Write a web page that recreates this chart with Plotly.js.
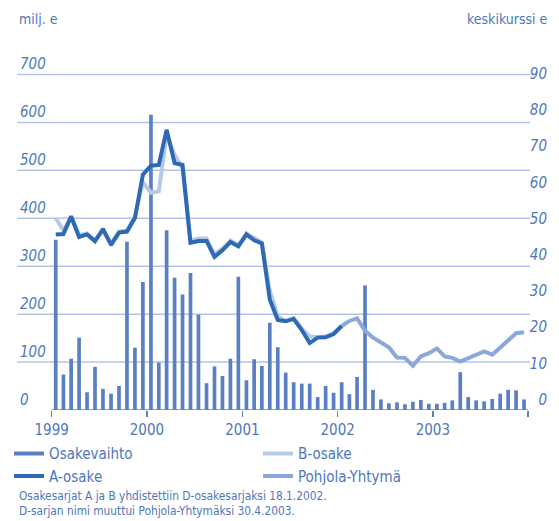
<!DOCTYPE html>
<html>
<head>
<meta charset="utf-8">
<script src="https://cdn.plot.ly/plotly-3.0.1.min.js"></script>
<style>html,body{margin:0;padding:0;background:#fff}#chart{width:559px;height:521px}</style>
</head>
<body>
<div id="chart"></div>
<script>
// ---- data ----
const years = [1999, 2000, 2001, 2002, 2003];
// Osakevaihto, milj. e (monthly, Jan 1999 - Dec 2003)
const vaihto1999 = [355, 74, 107, 151, 37, 90, 44, 34, 50, 351, 130, 267];
const vaihto2000 = [616, 99, 375, 276, 241, 286, 199, 56, 91, 71, 107, 278];
const vaihto2001 = [62, 106, 92, 182, 131, 78, 58, 55, 55, 27, 50, 36];
const vaihto2002 = [58, 33, 69, 260, 42, 22, 14, 16, 12, 17, 21, 13];
const vaihto2003 = [13, 15, 20, 79, 27, 20, 18, 23, 34, 42, 41, 22];
// A-osake keskikurssi e (Jan 1999 - Jan 2002)
const aOsake = [48.5, 48.6, 53.5, 47.8, 48.5, 46.6, 50, 45.6, 49, 49.3, 53, 65,
                67.5, 67.7, 77.4, 68.2, 67.7, 46.2, 46.7, 46.7, 42.3, 44.1, 46.4, 45.2,
                48.5, 46.9, 46, 30.5, 24.9, 24.5, 25.2, 22.1, 18.5, 20, 20.1, 21,
                23.2];
// B-osake keskikurssi e (Jan 1999 - Jan 2002)
const bOsake = [53, 49.6, 53.2, 48.3, 48.8, 47, 49.6, 46, 49.3, 49.5, 53.5, 63,
                60, 60.4, 76, 70.5, 66.8, 46.8, 47.4, 47.4, 43, 44.6, 46.8, 45.5,
                48.8, 47.4, 46.3, 33, 25.8, 24.6, 25.3, 22.5, 20.3, 20.2, 20.3, 21.2,
                23.3];
// Pohjola-Yhtymä keskikurssi e (Jan 2002 - Dec 2003)
const pohjola = [23.2, 24.6, 25.3, 21.9, 20, 18.7, 17.3, 14.5, 14.4, 12.2, 14.8, 15.7,
                 17, 14.8, 14.4, 13.4, 14.4, 15.4, 16.2, 15.3, 17.3, 19.4, 21.2, 21.5];
const leftTicks = [0, 100, 200, 300, 400, 500, 600, 700];
const rightTicks = [0, 10, 20, 30, 40, 50, 60, 70, 80, 90];
const yearTicks = ['1999-01-01', '2000-01-01', '2001-01-01', '2002-01-01', '2003-01-01', '2004-01-01'];
const yearLabels = ['1999', '2000', '2001', '2002', '2003', ''];
const names = ['Osakevaihto', 'B-osake', 'A-osake', 'Pohjola-Yhtymä'];
const footnotes = ['Osakesarjat A ja B yhdistettiin D-osakesarjaksi 18.1.2002.',
                   'D-sarjan nimi muuttui Pohjola-Yhtymäksi 30.4.2003.'];

// ---- build ----
const months = [];
years.forEach(y => { for (let m = 1; m <= 12; m++) months.push(y + '-' + String(m).padStart(2, '0')); });
const vaihto = [].concat(vaihto1999, vaihto2000, vaihto2001, vaihto2002, vaihto2003);
const abMonths = months.slice(0, aOsake.length);
const pMonths = months.slice(months.length - pohjola.length);

const FONT = '"DejaVu Sans Condensed", "Liberation Sans Narrow", "DejaVu Sans", sans-serif';
const TXT = '#4f76bd';
const C_BAR = '#5a80c2', C_A = '#2e69b3', C_B = '#b7c9e9', C_P = '#8ca7da', C_GRID = '#b3c4e7';

const per = {xperiod: 'M1', xperiodalignment: 'middle'};
const traces = [
  Object.assign({type: 'bar', x: months, y: vaihto, name: names[0], marker: {color: C_BAR}, showlegend: false, yaxis: 'y'}, per),
  {type: 'scatter', mode: 'lines', x: [null], y: [null], name: names[0], line: {color: C_BAR, width: 4}, legendrank: 1, yaxis: 'y2'},
  Object.assign({type: 'scatter', mode: 'lines', x: abMonths, y: bOsake, name: names[1], line: {color: C_B, width: 4}, legendrank: 2, yaxis: 'y2'}, per),
  Object.assign({type: 'scatter', mode: 'lines', x: pMonths, y: pohjola, name: names[3], line: {color: C_P, width: 4}, legendrank: 4, yaxis: 'y2'}, per),
  Object.assign({type: 'scatter', mode: 'lines', x: abMonths, y: aOsake, name: names[2], line: {color: C_A, width: 4}, legendrank: 3, yaxis: 'y2'}, per)
];

const shapes = leftTicks.filter(v => v > 0).map(v => ({
  type: 'line', xref: 'paper', yref: 'y', x0: 0, x1: 0.9625, y0: v, y1: v,
  line: {color: C_GRID, width: 1.5}, layer: 'below'
}));
shapes.push({type: 'line', xref: 'x', yref: 'y', x0: yearTicks[0], x1: yearTicks[yearTicks.length - 1], y0: 0, y1: 0,
  line: {color: C_BAR, width: 1.5}, layer: 'above'});

// plot area: 50px .. 410px (360 px tall)
const layout = {
  width: 559, height: 521,
  margin: {l: 17, r: 9, t: 50, b: 111},
  paper_bgcolor: '#fff', plot_bgcolor: 'rgba(0,0,0,0)',
  font: {family: FONT, color: TXT, size: 15},
  bargap: 0.52,
  showlegend: true,
  legend: {orientation: 'h', x: -0.015, xanchor: 'left', y: -0.076, yanchor: 'top',
           entrywidth: 204, font: {size: 15, color: TXT}, traceorder: 'normal', itemwidth: 30},
  xaxis: {type: 'date', range: ['1998-08-21', '2004-03-25'], tickmode: 'array', tickvals: yearTicks, ticktext: yearLabels,
          ticks: 'outside', ticklen: 6, tickcolor: C_BAR, tickwidth: 1.5, showgrid: false, zeroline: false, showline: false,
          tickfont: {size: 15, color: TXT}},
  yaxis: {range: [0, 751], tickmode: 'array', tickvals: leftTicks, ticklabelposition: 'inside top',
          showgrid: false, zeroline: false, showline: false, ticks: '',
          tickfont: {size: 15, color: TXT, style: 'italic'}},
  yaxis2: {overlaying: 'y', side: 'right', range: [0, 99.45], tickmode: 'array', tickvals: rightTicks, ticklabelposition: 'inside top',
           showgrid: false, zeroline: false, showline: false, ticks: '',
           tickfont: {size: 15, color: TXT, style: 'italic'}},
  shapes: shapes,
  annotations: [
    {xref: 'paper', yref: 'paper', x: 0, y: 1.086, xanchor: 'left', yanchor: 'middle', text: 'milj. e', showarrow: false, font: {size: 14, color: TXT}},
    {xref: 'paper', yref: 'paper', x: 1, y: 1.086, xanchor: 'right', yanchor: 'middle', text: 'keskikurssi e', showarrow: false, font: {size: 14, color: TXT}},
    {xref: 'paper', yref: 'paper', x: 0, y: -0.24, xanchor: 'left', yanchor: 'middle', text: footnotes[0], showarrow: false, font: {size: 11.8, color: TXT}},
    {xref: 'paper', yref: 'paper', x: 0, y: -0.2815, xanchor: 'left', yanchor: 'middle', text: footnotes[1], showarrow: false, font: {size: 11.8, color: TXT}}
  ]
};

Plotly.newPlot('chart', traces, layout, {displayModeBar: false, staticPlot: true});
</script>
</body>
</html>
